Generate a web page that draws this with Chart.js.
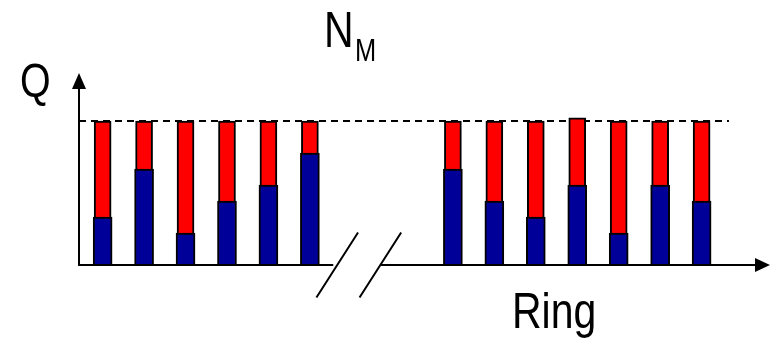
<!DOCTYPE html>
<html>
<head>
<meta charset="utf-8">
<script src="https://cdn.jsdelivr.net/npm/chart.js@4.4.1/dist/chart.umd.min.js"></script>
<style>
  body { margin: 0; background: #fff; }
  .chartbox { width: 777px; height: 342px; }
</style>
</head>
<body>
<div class="chartbox"></div>
<script>
// rings before and after the break in the ring axis
const leftRings = [1, 2, 3, 4, 5, 6];
const rightRings = [1, 2, 3, 4, 5, 6, 7];

// Q per ring: blue = filled part, red = remaining part up to the limit
const blueLeft = [3, 6, 2, 4, 5, 7];
const redLeft = [6, 3, 7, 5, 4, 2];
const blueRight = [6, 4, 3, 5, 2, 5, 4];
const redRight = [3, 5, 6, 4.2, 7, 4, 5];

const qLimit = 9;

// where the right group starts on the x scale (leaves room for the break)
const breakGap = 3.45;
const breakFrom = 6.66;
const breakTo = 7.7;

const FONT = '"Liberation Sans", Arial, sans-serif';
const NARROW = 0.82;

function points(values) {
    const left = leftRings.map((r, i) => ({ x: r, y: values.left[i] }));
    const right = rightRings.map((r, i) => ({ x: leftRings.length + breakGap + (r - 1), y: values.right[i] }));
    return left.concat(right);
}

// condensed text, drawn by squeezing the regular face horizontally
function narrowText(ctx, text, x, y, size) {
    ctx.save();
    ctx.font = `${size}px ${FONT}`;
    ctx.scale(NARROW, 1);
    ctx.fillText(text, x / NARROW, y);
    ctx.restore();
}

const sketch = {
    id: "sketch",
    beforeDatasetsDraw(chart) {
        const { ctx, chartArea, scales: { x, y } } = chart;
        const lastX = leftRings.length + breakGap + rightRings.length - 1;
        ctx.save();
        ctx.strokeStyle = "#000";
        ctx.lineWidth = 2;
        ctx.setLineDash([7, 5]);
        ctx.beginPath();
        ctx.moveTo(chartArea.left, y.getPixelForValue(qLimit));
        ctx.lineTo(x.getPixelForValue(lastX + 0.66), y.getPixelForValue(qLimit));
        ctx.stroke();
        ctx.restore();
    },
    afterDatasetsDraw(chart) {
        const { ctx, chartArea, scales: { x } } = chart;
        const x0 = chartArea.left;
        const y0 = chartArea.bottom;
        const b1 = x.getPixelForValue(breakFrom);
        const b2 = x.getPixelForValue(breakTo);
        ctx.save();
        ctx.strokeStyle = "#000";
        ctx.fillStyle = "#000";
        ctx.lineWidth = 2;
        ctx.lineCap = "butt";

        // y axis with arrow
        ctx.beginPath();
        ctx.moveTo(x0, y0 + 1);
        ctx.lineTo(x0, chartArea.top + 14);
        ctx.stroke();
        ctx.beginPath();
        ctx.moveTo(x0, chartArea.top);
        ctx.lineTo(x0 - 7, chartArea.top + 16);
        ctx.lineTo(x0 + 7, chartArea.top + 16);
        ctx.closePath();
        ctx.fill();

        // x axis, broken between the two ring groups
        ctx.beginPath();
        ctx.moveTo(x0 - 1, y0);
        ctx.lineTo(b1 - 4, y0);
        ctx.moveTo(b2, y0);
        ctx.lineTo(chartArea.right - 12, y0);
        ctx.stroke();
        ctx.beginPath();
        ctx.moveTo(chartArea.right, y0);
        ctx.lineTo(chartArea.right - 15, y0 - 7);
        ctx.lineTo(chartArea.right - 15, y0 + 7);
        ctx.closePath();
        ctx.fill();

        // break marks
        ctx.beginPath();
        [b1, b2].forEach(bx => {
            ctx.moveTo(bx - 20.8, y0 + 32.5);
            ctx.lineTo(bx + 20.8, y0 - 32.5);
        });
        ctx.stroke();
        ctx.restore();
    },
    afterDraw(chart) {
        const { ctx } = chart;
        ctx.save();
        ctx.fillStyle = "#000";
        ctx.textBaseline = "alphabetic";
        ctx.textAlign = "left";
        narrowText(ctx, "Q", 20, 97, 48);
        narrowText(ctx, "N", 324, 47, 50);
        narrowText(ctx, "M", 355, 61, 31);
        narrowText(ctx, "Ring", 512, 328, 50);
        ctx.restore();
    }
};

const container = document.querySelector(".chartbox");
const canvas = document.createElement("canvas");
canvas.width = 777;
canvas.height = 342;
container.appendChild(canvas);

new Chart(canvas.getContext("2d"), {
    type: "bar",
    data: {
        datasets: [
            {
                label: "Q filled",
                data: points({ left: blueLeft, right: blueRight }),
                backgroundColor: "#000099",
                borderColor: "#000",
                borderWidth: 2,
                barThickness: 19
            },
            {
                label: "Q free",
                data: points({ left: redLeft, right: redRight }),
                backgroundColor: "#FF0000",
                borderColor: "#000",
                borderWidth: 2,
                barThickness: 17
            }
        ]
    },
    options: {
        responsive: false,
        animation: false,
        layout: { padding: { left: 79, right: 7, top: 73, bottom: 77 } },
        plugins: {
            legend: { display: false },
            tooltip: { enabled: false }
        },
        scales: {
            x: { type: "linear", min: 0.43, max: 17.1, offset: false, stacked: true, display: false },
            y: { min: 0, max: 12, stacked: true, display: false }
        }
    },
    plugins: [sketch]
});
</script>
</body>
</html>
